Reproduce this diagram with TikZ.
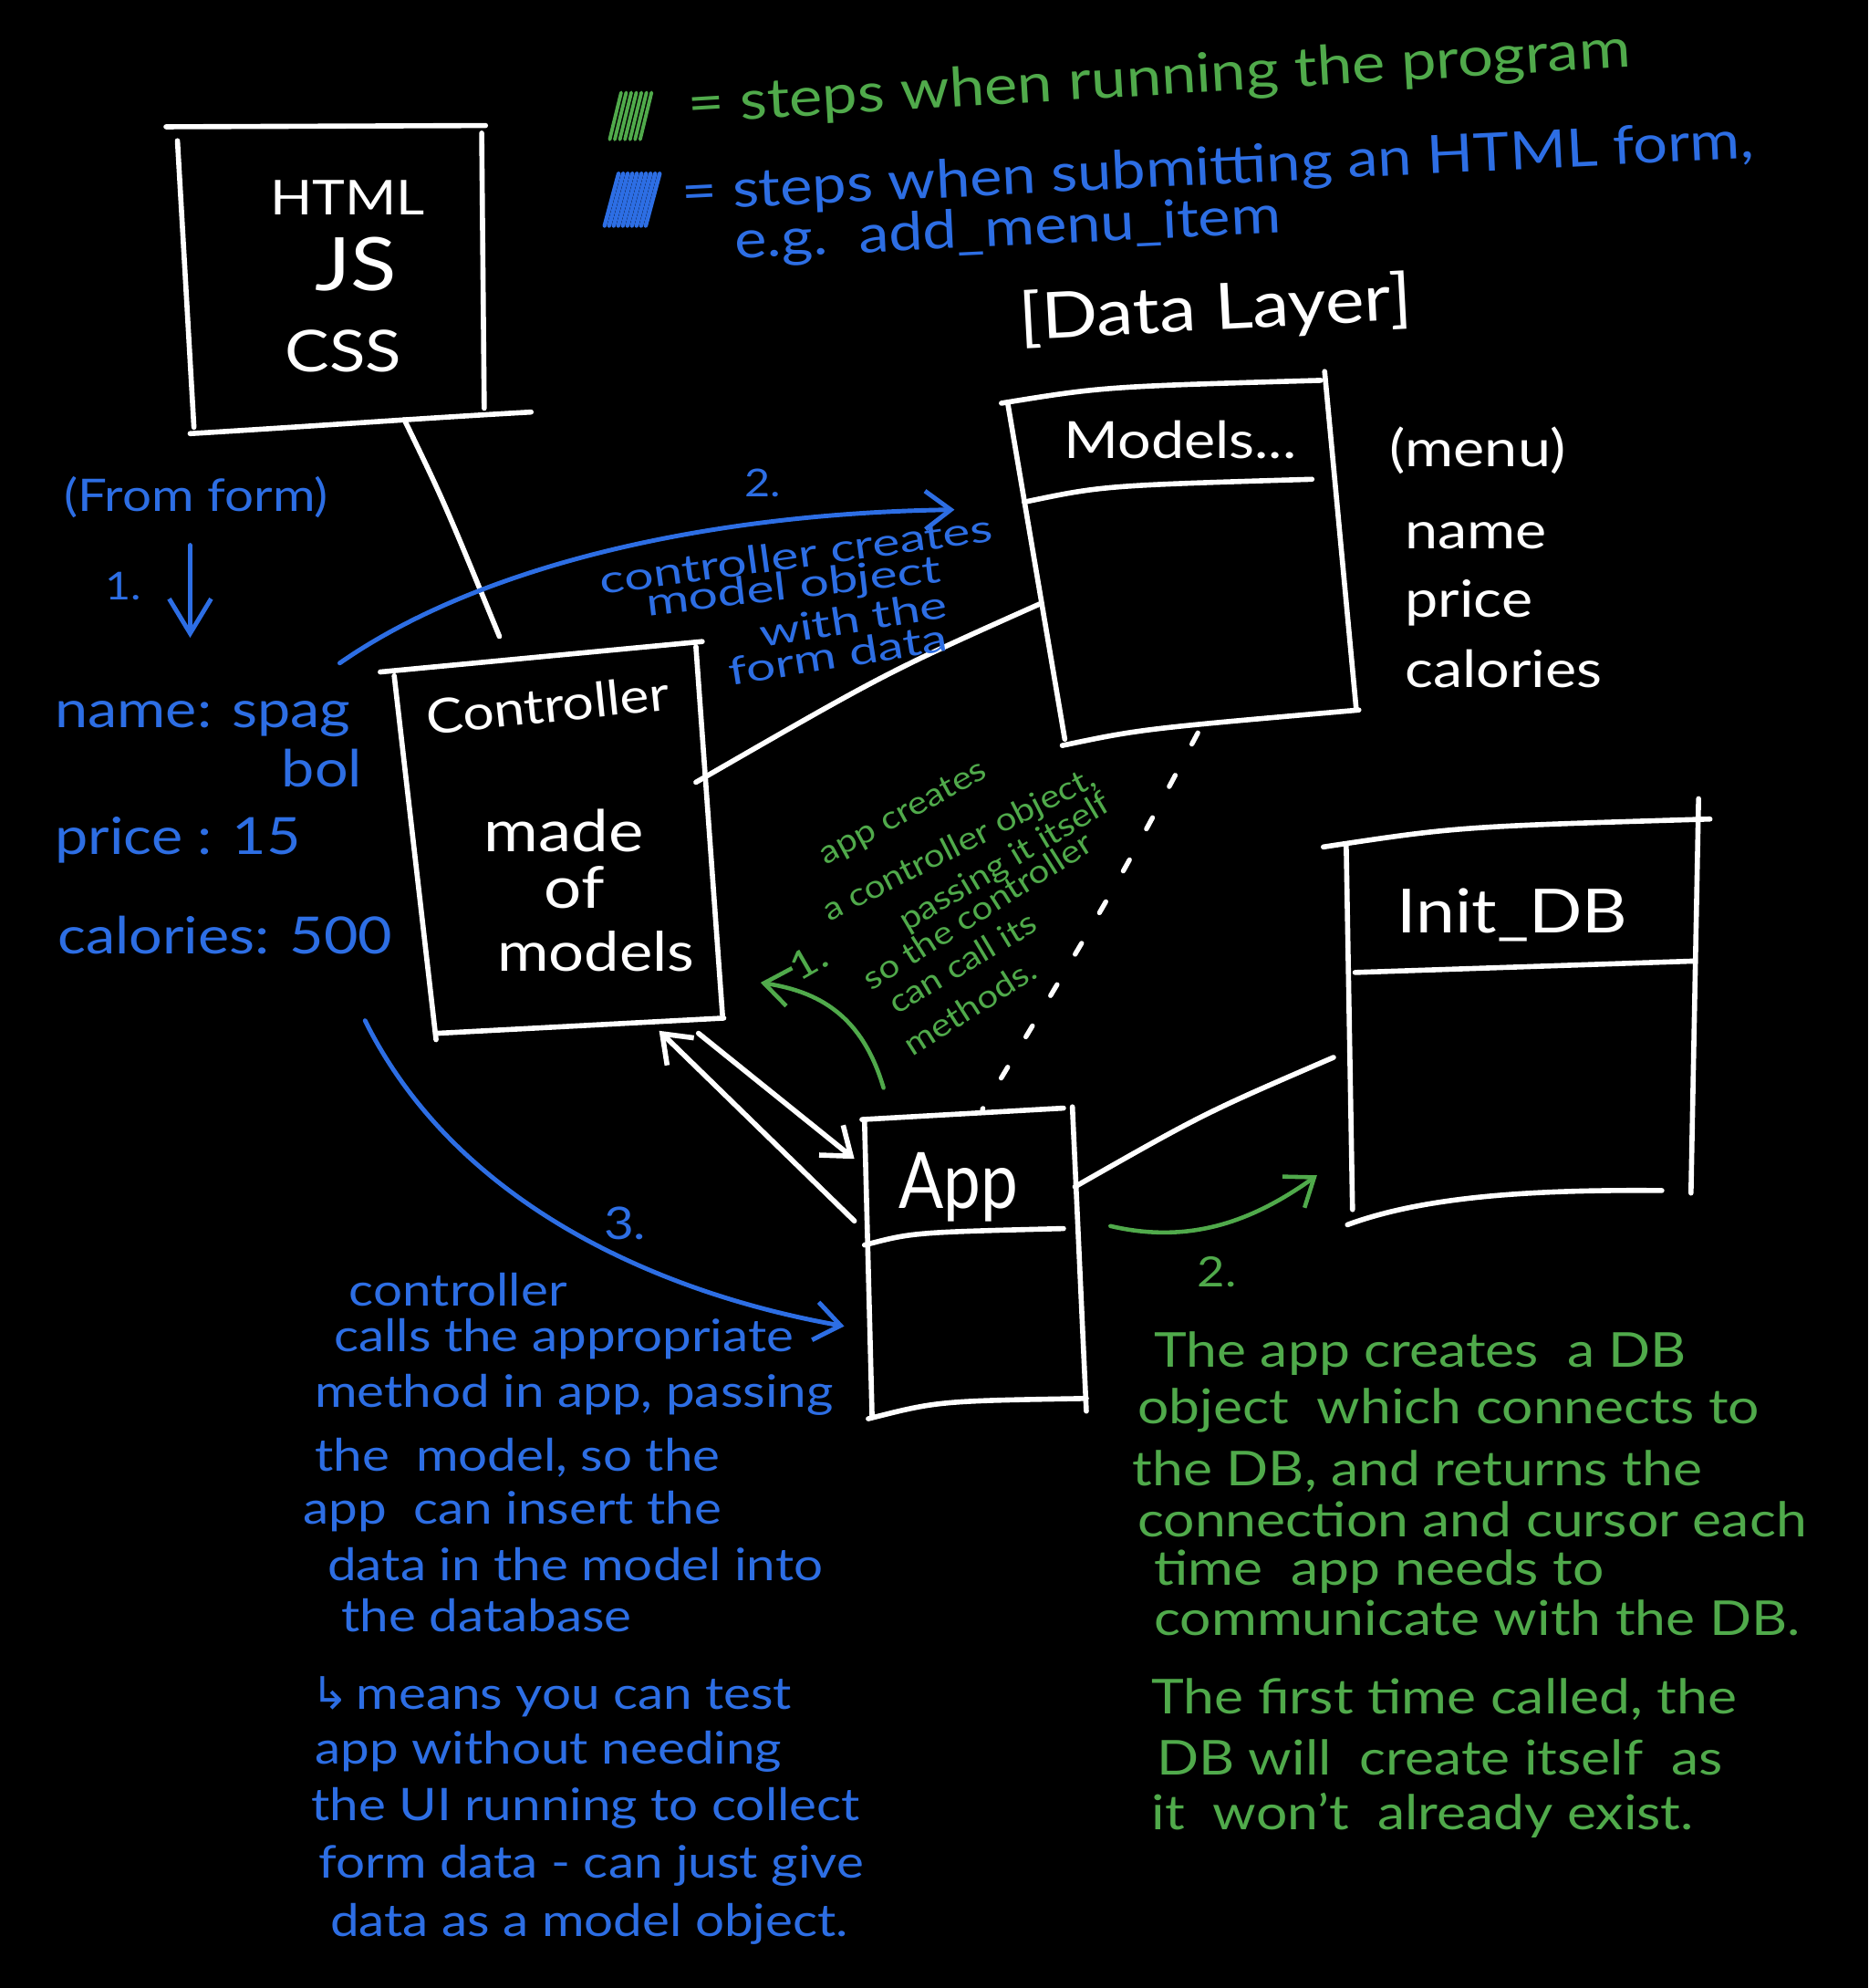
\documentclass[tikz,border=0pt]{standalone}
\usepackage{fontspec}
\setmainfont{Lato}[FakeStretch=1.15]
\newfontfamily\widefont{Lato}[FakeStretch=1.35]
\newfontfamily\symfont{DejaVu Sans}
\usetikzlibrary{arrows.meta}
\definecolor{hgreen}{RGB}{80,170,75}
\definecolor{hblue}{RGB}{45,110,228}
\newcommand\hsz[1]{\fontsize{#1}{#1}\selectfont}
\begin{document}
\begin{tikzpicture}[x=0.013894cm,y=-0.013894cm,
  wbox/.style={white,line width=1.6pt,line cap=round,line join=round},
  gline/.style={hgreen,line width=1.3pt,line cap=round},
  bline/.style={hblue,line width=1.4pt,line cap=round},
  wtxt/.style={text=white,inner sep=0pt},
  gtxt/.style={text=hgreen,inner sep=0pt},
  btxt/.style={text=hblue,inner sep=0pt},
  barb/.style={-{Straight Barb[length=2.8mm,width=4.2mm]}},
  bigbarb/.style={-{Straight Barb[length=3.8mm,width=4.6mm]}}]
\fill[black] (0,0) rectangle (1474,1568);
\useasboundingbox (0,0) rectangle (1474,1568);

% ---------- legend ----------
\foreach \i in {0,...,6} \draw[gline,line width=1.1pt] ({481+\i*4},110) -- ({490+\i*4},73);
\foreach \i in {0,...,9} \draw[bline,line width=1.3pt] ({477+\i*3.6},178) -- ({488+\i*3.6},137);
\node[gtxt,anchor=base west,rotate=3.4] (leg1) at (543,97) {\hsz{17}= steps when running the program};
\node[btxt,anchor=base west,rotate=2.8] (leg2) at (538,166) {\hsz{16.5}= steps when submitting an HTML form,};
\node[btxt,anchor=base west,rotate=2.7] (leg3) at (580,204) {\hsz{16.5}e.g.\ \ add\_menu\_item};

% ---------- HTML box ----------
\draw[wbox] (131,100) -- (383,99);
\draw[wbox] (140,111) -- (153,337);
\draw[wbox] (380,105) -- (382,322);
\draw[wbox] (150,342) .. controls (250,336) and (330,330) .. (419,325);
\node[wtxt] (html) at (274,156) {\hsz{15}HTML};
\node[wtxt] (js) at (281,208) {\hsz{23}JS};
\node[wtxt] (css) at (271,277) {\hsz{18}CSS};

% ---------- left form data ----------
\node[btxt,anchor=west] (fromform) at (50,392) {\hsz{14}(From form)};
\node[btxt] (one) at (97,462) {\hsz{12}1.};
\coordinate (dnS) at (150,430);
\coordinate (dnE) at (150,503);
\draw[bline,bigbarb] (dnS) -- (dnE);
\node[btxt,anchor=base west] (fname) at (43,574) {\hsz{16}name: spag};
\node[btxt] (fbol) at (254,606) {\hsz{16}bol};
\node[btxt,anchor=base west] (fprice) at (43,674) {\hsz{16}price : 15};
\node[btxt,anchor=base west] (fcal) at (45,752) {\hsz{16}calories: 500};

% ---------- Controller ----------
\draw[wbox] (300,530) -- (554,506);
\draw[wbox] (311,533) -- (344,820);
\draw[wbox] (549,510) -- (570,801);
\draw[wbox] (345,815) -- (571,803);
\node[wtxt,rotate=6] (ctrl) at (432,556) {\hsz{15}Controller};
\node[wtxt] (made) at (445,655) {\hsz{18}made};
\node[wtxt] (of) at (453,700) {\hsz{18}of};
\node[wtxt] (models) at (470,750) {\hsz{17}models};

% ---------- Models ----------
\node[wtxt,rotate=3] (datalayer) at (959,245) {\hsz{20}[Data Layer]};
\draw[wbox] (790,318) .. controls (870,305) .. (1042,300);
\draw[wbox] (795,318) -- (840,583);
\draw[wbox] (1045,293) -- (1070,560);
\draw[wbox] (838,588) .. controls (900,575) .. (1072,560);
\draw[wbox] (808,396) .. controls (870,383) .. (1035,378);
\node[wtxt] (modtitle) at (931,347) {\hsz{16}Models...};
\node[wtxt,anchor=west] (menu) at (1096,355) {\hsz{16}(menu)};
\node[wtxt,anchor=base west] (mname) at (1108,433) {\hsz{16}name};
\node[wtxt,anchor=base west] (mprice) at (1108,487) {\hsz{16}price};
\node[wtxt,anchor=base west] (mcal) at (1108,542) {\hsz{16}calories};

% ---------- Init_DB ----------
\draw[wbox] (1044,668) .. controls (1150,652) .. (1349,646);
\draw[wbox] (1062,666) -- (1067,954);
\draw[wbox] (1340,630) -- (1334,941);
\draw[wbox] (1069,767) -- (1337,758);
\draw[wbox] (1063,966) .. controls (1120,945) and (1200,938) .. (1311,939);
\node[wtxt] (initdb) at (1193,722) {\hsz{19}Init\_DB};

% ---------- App ----------
\draw[wbox] (680,883) -- (839,874);
\draw[wbox] (682,884) -- (688,1118);
\draw[wbox] (846,873) -- (857,1113);
\draw[wbox] (682,982) .. controls (720,972) .. (839,969);
\draw[wbox] (685,1119) .. controls (740,1105) .. (857,1103);
\node[wtxt] (app) at (756,936) {\hsz{18}\scalebox{1}[1.35]{App}};

% ---------- white connectors ----------
\coordinate (htmlB) at (319,331);
\coordinate (ctrlT) at (394,502);
\coordinate (ctrlR) at (549,617);
\coordinate (modL) at (821,476);
\coordinate (appLo) at (674,963);
\coordinate (ctrlBR) at (520,813);
\coordinate (ctrlBo) at (551,815);
\coordinate (appLi) at (674,914);
\coordinate (appR) at (848,936);
\coordinate (dbL) at (1052,834);
\coordinate (modB) at (945,578);
\coordinate (appT) at (775,875);
\draw[wbox] (htmlB) .. controls (350,395) .. (ctrlT);
\draw[wbox] (ctrlR) .. controls (700,530) .. (modL);
\draw[wbox,barb] (appLo) -- (ctrlBR);
\draw[wbox,barb] (ctrlBo) -- (appLi);
\draw[wbox] (appR) .. controls (950,878) .. (dbL);
\draw[white,line width=1.5pt,line cap=round,dash pattern=on 4pt off 11pt] (modB) .. controls (880,700) .. (appT);

% ---------- blue step 2 ----------
\coordinate (b2s) at (268,523);
\coordinate (b2e) at (753,402);
\draw[bline,barb] (b2s) .. controls (380,445) and (560,405) .. (b2e);
\node[btxt] (btwo) at (602,381) {\hsz{12}2.};
\node[btxt,rotate=7.8] (bc1) at (628,437) {\widefont\hsz{12}controller creates};
\node[btxt,rotate=6.6] (bc2) at (626,464) {\widefont\hsz{12}model object};
\node[btxt,rotate=9] (bc3) at (673,488) {\widefont\hsz{12}with the};
\node[btxt,rotate=9] (bc4) at (661,516) {\widefont\hsz{12}form data};

% ---------- green step 1 ----------
\coordinate (g1s) at (697,858);
\coordinate (g1e) at (600,775);
\draw[gline,barb] (g1s) .. controls (680,800) and (645,782) .. (g1e);
\node[gtxt,rotate=30] (gone) at (638,758) {\hsz{12}1.};
\node[gtxt,rotate=28.6] (gc1) at (713,642) {\hsz{10}app creates};
\node[gtxt,rotate=27] (gc2) at (757,667) {\hsz{10}a controller object,};
\node[gtxt,rotate=30.7] (gc3) at (793,681) {\hsz{10}passing it itself};
\node[gtxt,rotate=32.4] (gc4) at (771,718) {\hsz{10}so the controller};
\node[gtxt,rotate=31] (gc5) at (759,759) {\hsz{10}can call its};
\node[gtxt,rotate=32.5] (gc6) at (765,794) {\hsz{10}methods.};

% ---------- green step 2 ----------
\coordinate (g2s) at (876,967);
\coordinate (g2e) at (1039,927);
\draw[gline,barb] (g2s) .. controls (940,982) and (990,962) .. (g2e);
\node[gtxt] (gtwo) at (960,1003) {\hsz{13}2.};
\node[gtxt,anchor=base west] (gt1) at (910,1078) {\hsz{15}The app creates\ \ a DB};
\node[gtxt,anchor=base west] (gt2) at (897,1123) {\hsz{15}object\ \ which connects to};
\node[gtxt,anchor=base west] (gt3) at (893,1172) {\hsz{15}the DB, and returns the};
\node[gtxt,anchor=base west] (gt4) at (897,1212) {\hsz{15}connection and cursor each};
\node[gtxt,anchor=base west] (gt5) at (910,1250) {\hsz{15}time\ \ app needs\ to};
\node[gtxt,anchor=base west] (gt6) at (910,1290) {\hsz{15}communicate with the DB.};
\node[gtxt,anchor=base west] (gt7) at (908,1352) {\hsz{15}The first time called,\ the};
\node[gtxt,anchor=base west] (gt8) at (912,1400) {\hsz{15}DB\ will\ \ create itself\ \ as};
\node[gtxt,anchor=base west] (gt9) at (908,1443) {\hsz{15}it\ \ won't\ \ already exist.};

% ---------- blue step 3 ----------
\coordinate (b3s) at (288,805);
\coordinate (b3e) at (666,1046);
\draw[bline,barb] (b3s) .. controls (360,950) and (520,1020) .. (b3e);
\node[btxt] (bthree) at (493,965) {\hsz{14}3.};
\node[btxt,anchor=base west] (bt1) at (275,1030) {\hsz{14}controller};
\node[btxt,anchor=base west] (bt2) at (263,1066) {\hsz{14}calls\ the\ appropriate};
\node[btxt,anchor=base west] (bt3) at (248,1110) {\hsz{14}method in\ app, passing};
\node[btxt,anchor=base west] (bt4) at (248,1160) {\hsz{14}the\ \ model, so the};
\node[btxt,anchor=base west] (bt5) at (239,1202) {\hsz{14}app\ \ can insert the};
\node[btxt,anchor=base west] (bt6) at (258,1247) {\hsz{14}data in the model into};
\node[btxt,anchor=base west] (bt7) at (269,1287) {\hsz{14}the\ database};
\node[btxt,anchor=base west] (bt8) at (245,1348) {\hsz{14}{\symfont\char"21B3}\,means you can test};
\node[btxt,anchor=base west] (bt9) at (248,1391) {\hsz{14}app without needing};
\node[btxt,anchor=base west] (bt10) at (245,1436) {\hsz{14}the UI\ running to collect};
\node[btxt,anchor=base west] (bt11) at (251,1481) {\hsz{14}form data - can just give};
\node[btxt,anchor=base west] (bt12) at (260,1527) {\hsz{14}data\ as a\ model object.};
\end{tikzpicture}
\end{document}
